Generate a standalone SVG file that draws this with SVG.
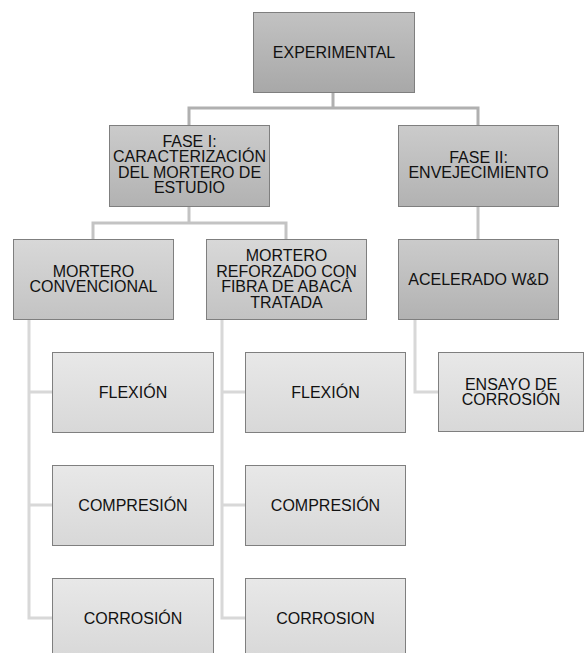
<svg xmlns="http://www.w3.org/2000/svg" width="587" height="653" viewBox="0 0 587 653">
<defs>
<linearGradient id="g1" x1="0" y1="0" x2="0" y2="1"><stop offset="0" stop-color="#c2c2c2"/><stop offset="1" stop-color="#a8a8a8"/></linearGradient>
<linearGradient id="g2" x1="0" y1="0" x2="0" y2="1"><stop offset="0" stop-color="#cbcbcb"/><stop offset="1" stop-color="#b2b2b2"/></linearGradient>
<linearGradient id="g3" x1="0" y1="0" x2="0" y2="1"><stop offset="0" stop-color="#d8d8d8"/><stop offset="1" stop-color="#c3c3c3"/></linearGradient>
<linearGradient id="g4" x1="0" y1="0" x2="0" y2="1"><stop offset="0" stop-color="#e8e8e8"/><stop offset="1" stop-color="#d8d8d8"/></linearGradient>
</defs>
<style>
rect.b{stroke:#7f7f7f;stroke-width:1}
.l1{fill:url(#g1)}.l2{fill:url(#g2)}.l3{fill:url(#g3)}.l4{fill:url(#g4)}
text{font-family:"Liberation Sans",Arial,sans-serif;font-size:16px;fill:#111;text-anchor:middle}
#connectors path{fill:none;stroke-width:3}
.c1{stroke:#b0b0b0}.c2{stroke:#c3c3c3}.c3{stroke:#d8d8d8}
</style>
<rect width="587" height="653" fill="#ffffff"/>
<g id="connectors">
<path class="c1" d="M333,92V108M189,125V108H478V125"/>
<path class="c2" d="M189,206V223M93,239V223H286V239M478,206V239"/>
<path class="c3" d="M29,319V618H52M29,392H52M29,505H52"/>
<path class="c3" d="M222,319V618H245M222,392H245M222,505H245"/>
<path class="c3" d="M415,319V392H438"/>
</g>
<g id="experimental"><rect class="b l1" x="253.5" y="12.5" width="161" height="80"/><text x="334" y="58">EXPERIMENTAL</text></g>
<g id="fase1"><rect class="b l2" x="109.5" y="125.5" width="160" height="81"/><text x="189.5" y="146.5">FASE I:</text><text x="189.5" y="162">CARACTERIZACIÓN</text><text x="189.5" y="177.5">DEL MORTERO DE</text><text x="189.5" y="193">ESTUDIO</text></g>
<g id="fase2"><rect class="b l2" x="398.5" y="125.5" width="160" height="81"/><text x="478.5" y="162.5">FASE II:</text><text x="478.5" y="178">ENVEJECIMIENTO</text></g>
<g id="mortero-conv"><rect class="b l3" x="13.5" y="239.5" width="160" height="80"/><text x="93.5" y="276.5">MORTERO</text><text x="93.5" y="292">CONVENCIONAL</text></g>
<g id="mortero-ref"><rect class="b l3" x="206.5" y="239.5" width="160" height="80"/><text x="286.5" y="261">MORTERO</text><text x="286.5" y="276.5">REFORZADO CON</text><text x="286.5" y="292">FIBRA DE ABACÁ</text><text x="286.5" y="307.5">TRATADA</text></g>
<g id="acelerado"><rect class="b l2" x="398.5" y="239.5" width="160" height="80"/><text x="478.5" y="285">ACELERADO W&amp;D</text></g>
<g id="ensayo"><rect class="b l4" x="438.5" y="352.5" width="145" height="79"/><text x="511" y="389.5">ENSAYO DE</text><text x="511" y="405">CORROSIÓN</text></g>
<g id="flexion1"><rect class="b l4" x="52.5" y="352.5" width="161" height="80"/><text x="133" y="398">FLEXIÓN</text></g>
<g id="compresion1"><rect class="b l4" x="52.5" y="465.5" width="161" height="80"/><text x="133" y="511">COMPRESIÓN</text></g>
<g id="corrosion1"><rect class="b l4" x="52.5" y="578.5" width="161" height="80"/><text x="133" y="624">CORROSIÓN</text></g>
<g id="flexion2"><rect class="b l4" x="245.5" y="352.5" width="160" height="80"/><text x="325.5" y="398">FLEXIÓN</text></g>
<g id="compresion2"><rect class="b l4" x="245.5" y="465.5" width="160" height="80"/><text x="325.5" y="511">COMPRESIÓN</text></g>
<g id="corrosion2"><rect class="b l4" x="245.5" y="578.5" width="160" height="80"/><text x="325.5" y="624">CORROSION</text></g>
</svg>
